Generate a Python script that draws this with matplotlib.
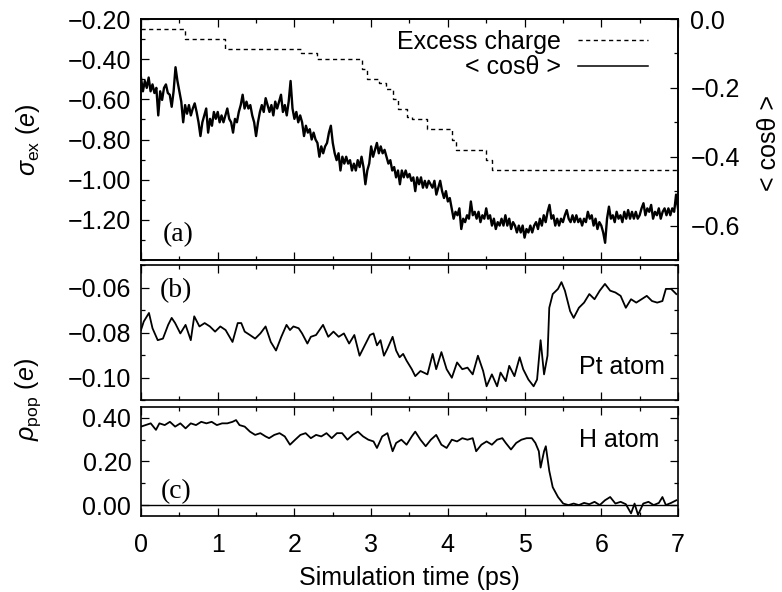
"""Excess charge / <cos theta> / Pt and H populations vs. simulation time."""
import numpy as np
import matplotlib
matplotlib.use("Agg")
import matplotlib.pyplot as plt
from matplotlib.ticker import MultipleLocator, FuncFormatter, FixedLocator

plt.rcParams["font.family"] = ["Liberation Sans", "DejaVu Sans"]
plt.rcParams["mathtext.fontset"] = "custom"
plt.rcParams["mathtext.rm"] = "Liberation Sans"
plt.rcParams["mathtext.it"] = "Liberation Sans:italic"
plt.rcParams["mathtext.bf"] = "Liberation Sans:bold"

FS = 18

# ── data ───────────────────────────────────────────────────────────────
# (a) <cos theta>, sampled every 0.025 ps from 0 to 7 ps (right axis)
COS_DT = 0.025
cos_theta = [
    -0.17, -0.21, -0.18, -0.20, -0.17, -0.21, -0.19, -0.215, -0.20, -0.28,
    -0.21, -0.235, -0.20, -0.19, -0.215, -0.22, -0.255, -0.21, -0.14, -0.18,
    -0.21, -0.24, -0.30, -0.25, -0.275, -0.25, -0.28, -0.26, -0.245, -0.27,
    -0.30, -0.34, -0.30, -0.28, -0.26, -0.33, -0.29, -0.31, -0.27, -0.29,
    -0.27, -0.30, -0.28, -0.30, -0.28, -0.26, -0.29, -0.30, -0.33, -0.29,
    -0.30, -0.27, -0.25, -0.22, -0.26, -0.24, -0.26, -0.25, -0.28, -0.30,
    -0.34, -0.30, -0.27, -0.25, -0.27, -0.23, -0.25, -0.27, -0.25, -0.28,
    -0.24, -0.26, -0.24, -0.22, -0.27, -0.25, -0.28, -0.24, -0.18, -0.26,
    -0.29, -0.27, -0.30, -0.28, -0.30, -0.34, -0.31, -0.33, -0.32, -0.35,
    -0.33, -0.35, -0.36, -0.40, -0.37, -0.39, -0.37, -0.36, -0.33, -0.31,
    -0.36, -0.39, -0.41, -0.39, -0.44, -0.40, -0.42, -0.40, -0.42, -0.41,
    -0.44, -0.42, -0.44, -0.41, -0.43, -0.40, -0.43, -0.48, -0.44, -0.42,
    -0.37, -0.40, -0.38, -0.36, -0.39, -0.37, -0.39, -0.38, -0.40, -0.42,
    -0.41, -0.44, -0.43, -0.46, -0.44, -0.48, -0.44, -0.46, -0.44, -0.46,
    -0.45, -0.47, -0.46, -0.50, -0.46, -0.48, -0.46, -0.49, -0.47, -0.49,
    -0.47, -0.48, -0.49, -0.47, -0.51, -0.49, -0.47, -0.50, -0.52, -0.50,
    -0.53, -0.52, -0.55, -0.58, -0.56, -0.57, -0.55, -0.61, -0.58, -0.59,
    -0.57, -0.58, -0.53, -0.57, -0.56, -0.58, -0.56, -0.59, -0.57, -0.58,
    -0.55, -0.58, -0.57, -0.60, -0.58, -0.61, -0.59, -0.60, -0.58, -0.60,
    -0.57, -0.60, -0.58, -0.61, -0.59, -0.60, -0.62, -0.60, -0.62, -0.60,
    -0.635, -0.61, -0.62, -0.60, -0.62, -0.60, -0.59, -0.61, -0.58, -0.60,
    -0.57, -0.59, -0.56, -0.54, -0.58, -0.57, -0.60, -0.58, -0.60, -0.58,
    -0.59, -0.57, -0.555, -0.58, -0.59, -0.57, -0.59, -0.57, -0.59, -0.58,
    -0.60, -0.58, -0.59, -0.56, -0.58, -0.57, -0.60, -0.58, -0.61, -0.59,
    -0.60, -0.62, -0.65, -0.58, -0.545, -0.58, -0.57, -0.59, -0.56, -0.58,
    -0.57, -0.59, -0.56, -0.58, -0.555, -0.58, -0.56, -0.58, -0.56, -0.58,
    -0.57, -0.55, -0.535, -0.57, -0.55, -0.56, -0.54, -0.58, -0.56, -0.57,
    -0.55, -0.58, -0.56, -0.55, -0.57, -0.55, -0.57, -0.55, -0.56, -0.51,
    -0.55,
]

# (a) excess charge, step levels (left axis)
charge_time = [0.00, 0.57, 1.09, 2.09, 2.30, 2.88, 2.95, 3.10, 3.20, 3.28,
               3.35, 3.47, 3.53, 3.73, 4.05, 4.10, 4.50, 4.57, 7.00]
charge = [-0.25, -0.30, -0.35, -0.37, -0.40, -0.45, -0.50, -0.52, -0.55, -0.60,
          -0.65, -0.69, -0.70, -0.75, -0.80, -0.85, -0.90, -0.95, -0.95]

# (b) Pt atom population
pt_time = [0.000, 0.036, 0.104, 0.150, 0.218, 0.286, 0.354, 0.400, 0.445, 0.513,
           0.581, 0.649, 0.694, 0.762, 0.830, 0.898, 0.966, 1.034, 1.103, 1.193,
           1.261, 1.307, 1.352, 1.420, 1.488, 1.556, 1.624, 1.692, 1.760, 1.829,
           1.897, 1.942, 1.987, 2.055, 2.100, 2.169, 2.214, 2.282, 2.373, 2.441,
           2.509, 2.577, 2.645, 2.713, 2.781, 2.849, 2.917, 2.985, 3.031, 3.076,
           3.122, 3.167, 3.212, 3.280, 3.326, 3.371, 3.417, 3.462, 3.530, 3.575,
           3.643, 3.734, 3.802, 3.848, 3.916, 3.984, 4.052, 4.120, 4.188, 4.256,
           4.324, 4.392, 4.460, 4.505, 4.574, 4.642, 4.687, 4.755, 4.800, 4.868,
           4.936, 4.982, 5.050, 5.118, 5.163, 5.209, 5.254, 5.299, 5.322, 5.367,
           5.436, 5.481, 5.526, 5.594, 5.640, 5.708, 5.776, 5.844, 5.912, 5.980,
           6.048, 6.116, 6.184, 6.252, 6.320, 6.388, 6.456, 6.525, 6.593, 6.661,
           6.729, 6.797, 6.842, 6.910, 6.978]
pt_pop = [-0.0789, -0.0751, -0.0713, -0.0781, -0.0834, -0.0827, -0.0766, -0.0735, -0.0758, -0.0804,
          -0.0766, -0.0834, -0.0728, -0.0773, -0.0758, -0.0773, -0.0796, -0.0773, -0.0789, -0.0842,
          -0.0758, -0.0758, -0.0796, -0.0811, -0.0827, -0.0804, -0.0773, -0.0842, -0.0880, -0.0819,
          -0.0766, -0.0789, -0.0773, -0.0781, -0.0804, -0.0849, -0.0819, -0.0811, -0.0766, -0.0819,
          -0.0796, -0.0819, -0.0804, -0.0849, -0.0811, -0.0903, -0.0857, -0.0811, -0.0804, -0.0857,
          -0.0834, -0.0903, -0.0872, -0.0819, -0.0880, -0.0910, -0.0895, -0.0925, -0.0963, -0.0994,
          -0.0971, -0.0986, -0.0895, -0.0963, -0.0887, -0.0963, -0.1001, -0.0933, -0.0963, -0.0956,
          -0.0986, -0.0903, -0.0971, -0.1039, -0.0986, -0.1039, -0.0978, -0.1016, -0.0948, -0.0994,
          -0.0910, -0.0963, -0.1009, -0.1039, -0.1009, -0.0834, -0.0986, -0.0903, -0.0690, -0.0629,
          -0.0606, -0.0576, -0.0614, -0.0705, -0.0735, -0.0690, -0.0667, -0.0629, -0.0652, -0.0614,
          -0.0584, -0.0614, -0.0622, -0.0637, -0.0690, -0.0652, -0.0667, -0.0652, -0.0637, -0.0660,
          -0.0667, -0.0660, -0.0606, -0.0606, -0.0629]

# (c) H atom population
h_time = [0.000, 0.059, 0.127, 0.195, 0.240, 0.309, 0.377, 0.445, 0.513, 0.581,
          0.649, 0.717, 0.785, 0.853, 0.921, 0.989, 1.057, 1.125, 1.193, 1.239,
          1.284, 1.352, 1.420, 1.488, 1.556, 1.624, 1.670, 1.738, 1.806, 1.874,
          1.942, 2.010, 2.078, 2.146, 2.214, 2.282, 2.350, 2.418, 2.486, 2.554,
          2.622, 2.691, 2.759, 2.827, 2.895, 2.963, 3.031, 3.076, 3.144, 3.212,
          3.280, 3.326, 3.394, 3.462, 3.530, 3.575, 3.643, 3.711, 3.779, 3.848,
          3.916, 3.984, 4.052, 4.120, 4.188, 4.256, 4.324, 4.369, 4.437, 4.505,
          4.574, 4.642, 4.710, 4.755, 4.823, 4.891, 4.959, 5.027, 5.095, 5.141,
          5.186, 5.209, 5.254, 5.277, 5.322, 5.367, 5.436, 5.504, 5.572, 5.640,
          5.708, 5.776, 5.844, 5.912, 5.980, 6.048, 6.116, 6.184, 6.252, 6.320,
          6.388, 6.434, 6.479, 6.547, 6.615, 6.683, 6.751, 6.797, 6.842, 6.910,
          6.978]
h_pop = [0.360, 0.367, 0.375, 0.345, 0.375, 0.367, 0.382, 0.360, 0.375, 0.352,
         0.375, 0.367, 0.382, 0.375, 0.382, 0.367, 0.375, 0.375, 0.382, 0.390,
         0.367, 0.360, 0.337, 0.322, 0.330, 0.315, 0.307, 0.322, 0.330, 0.315,
         0.277, 0.300, 0.322, 0.330, 0.307, 0.322, 0.315, 0.330, 0.307, 0.330,
         0.330, 0.300, 0.322, 0.337, 0.315, 0.300, 0.292, 0.262, 0.315, 0.330,
         0.247, 0.285, 0.300, 0.277, 0.315, 0.337, 0.300, 0.270, 0.300, 0.322,
         0.277, 0.262, 0.300, 0.292, 0.307, 0.300, 0.307, 0.247, 0.277, 0.292,
         0.277, 0.300, 0.307, 0.285, 0.255, 0.285, 0.300, 0.307, 0.307, 0.285,
         0.247, 0.172, 0.247, 0.270, 0.157, 0.082, 0.037, 0.007, 0.000, 0.007,
         0.000, 0.010, 0.004, 0.015, 0.000, 0.022, 0.037, 0.007, 0.015, 0.004,
         -0.038, 0.007, -0.045, 0.007, 0.015, 0.000, 0.010, 0.037, 0.000, 0.010,
         0.022]


def fmt(decimals):
    def f(v, _):
        if abs(v) < 1e-9:
            v = 0.0
        return f"{v:.{decimals}f}".replace("-", "\u2212")
    return FuncFormatter(f)


def style(ax, xlabels=False):
    ax.set_xlim(0, 7)
    ax.xaxis.set_major_locator(MultipleLocator(1))
    ax.xaxis.set_minor_locator(MultipleLocator(0.5))
    ax.tick_params(which="both", direction="in", top=True, right=True,
                   labelsize=FS, width=0.9)
    ax.tick_params(which="major", length=6)
    ax.tick_params(which="minor", length=3)
    ax.tick_params(axis="x", labelbottom=xlabels, pad=12)
    ax.tick_params(axis="y", pad=7)
    for s in ax.spines.values():
        s.set_linewidth(1.2)


fig = plt.figure(figsize=(7.82, 5.92), dpi=100)
L, W = 0.1803, 0.6867
ax_a = fig.add_axes([L, 0.5608, W, 0.4071])
ax_b = fig.add_axes([L, 0.3243, W, 0.2280])
ax_c = fig.add_axes([L, 0.1284, W, 0.1841])

# ── (a) ────────────────────────────────────────────────────────────────
style(ax_a)
ax_a.tick_params(right=False, which="both")
ax_a.plot(charge_time, charge, drawstyle="steps-post", color="black",
          lw=1.0, ls=(0, (3, 2.5)))
ax_a.set_ylim(-1.40, -0.20)
ax_a.yaxis.set_major_locator(FixedLocator([-1.2, -1.0, -0.8, -0.6, -0.4, -0.2]))
ax_a.yaxis.set_minor_locator(MultipleLocator(0.1))
ax_a.yaxis.set_major_formatter(fmt(2))

ax_r = ax_a.twinx()
cos_time = np.arange(len(cos_theta)) * COS_DT
ax_r.plot(cos_time, cos_theta, color="black", lw=1.7)
ax_r.set_ylim(-0.70, 0.0)
ax_r.yaxis.set_major_locator(FixedLocator([-0.6, -0.4, -0.2, 0.0]))
ax_r.yaxis.set_minor_locator(MultipleLocator(0.1))
ax_r.yaxis.set_major_formatter(fmt(1))
ax_r.tick_params(which="both", direction="in", labelsize=FS, width=0.9, pad=9)
ax_r.tick_params(which="major", length=6)
ax_r.tick_params(which="minor", length=3)
for s in ax_r.spines.values():
    s.set_linewidth(1.2)

# legend drawn gnuplot-style: text right-aligned, sample on the right
ax_r.text(0.782, 0.905, "Excess charge", transform=ax_r.transAxes,
          ha="right", va="center", fontsize=FS)
ax_r.plot([0.814, 0.944], [0.913, 0.913], transform=ax_r.transAxes,
          color="black", lw=1.0, ls=(0, (3, 2.5)))
ax_r.text(0.782, 0.80, "< cos\u03b8 >", transform=ax_r.transAxes,
          ha="right", va="center", fontsize=FS)
ax_r.plot([0.814, 0.944], [0.805, 0.805], transform=ax_r.transAxes,
          color="black", lw=1.1)

ax_a.text(0.069, 0.104, "(a)", transform=ax_a.transAxes, ha="center",
          va="center", fontsize=20, family="Liberation Serif")

# ── (b) ────────────────────────────────────────────────────────────────
style(ax_b)
ax_b.plot(pt_time, pt_pop, color="black", lw=1.3)
ax_b.set_ylim(-0.11, -0.05)
ax_b.yaxis.set_major_locator(FixedLocator([-0.10, -0.08, -0.06]))
ax_b.yaxis.set_minor_locator(MultipleLocator(0.01))
ax_b.yaxis.set_major_formatter(fmt(2))
ax_b.text(0.065, 0.807, "(b)", transform=ax_b.transAxes, ha="center",
          va="center", fontsize=20, family="Liberation Serif")
ax_b.text(0.976, 0.244, "Pt atom", transform=ax_b.transAxes, ha="right",
          va="center", fontsize=FS)

# ── (c) ────────────────────────────────────────────────────────────────
style(ax_c, xlabels=True)
ax_c.axhline(0.0, color="black", lw=1.0)
ax_c.plot(h_time, h_pop, color="black", lw=1.3)
ax_c.set_ylim(-0.05, 0.45)
ax_c.yaxis.set_major_locator(FixedLocator([0.0, 0.2, 0.4]))
ax_c.yaxis.set_minor_locator(MultipleLocator(0.1))
ax_c.yaxis.set_major_formatter(fmt(2))
ax_c.text(0.065, 0.22, "(c)", transform=ax_c.transAxes, ha="center",
          va="center", fontsize=20, family="Liberation Serif")
ax_c.text(0.966, 0.697, "H atom", transform=ax_c.transAxes, ha="right",
          va="center", fontsize=FS)

# ── axis titles ────────────────────────────────────────────────────────
fig.text(28 / 782, 1 - 140 / 592, r"$\sigma_{\rm ex}$ ($e$)", rotation=90,
         ha="center", va="center", fontsize=FS)
fig.text(28 / 782, 1 - 400 / 592, r"$\rho_{\rm pop}$ ($e$)", rotation=90,
         ha="center", va="center", fontsize=FS)
fig.text(769 / 782, 1 - 143 / 592, "< cos\u03b8 >", rotation=90,
         ha="center", va="center", fontsize=FS)
fig.text(409.5 / 782, 1 - 578 / 592, "Simulation time (ps)",
         ha="center", va="center", fontsize=FS)

fig.savefig("out.png", dpi=100, facecolor="white")
